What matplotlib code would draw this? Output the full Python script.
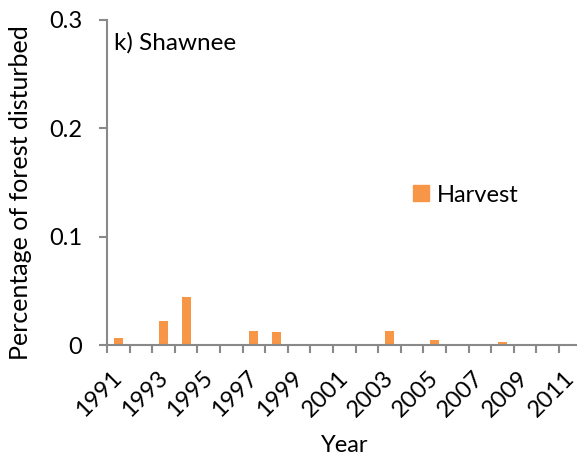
import matplotlib
matplotlib.use("Agg")
import matplotlib.pyplot as plt
import matplotlib.transforms as mtransforms
from matplotlib.patches import Patch
import numpy as np

years = list(range(1991, 2012))
harvest = [0.0065, 0, 0.0222, 0.0446, 0, 0, 0.0129, 0.0123, 0, 0, 0, 0,
           0.0129, 0, 0.0049, 0, 0, 0.0024, 0, 0, 0]
tick_labels = [str(y) if (y - 1991) % 2 == 0 else "" for y in years]

plt.rcParams["font.family"] = ["Lato", "DejaVu Sans"]
grey = "#898989"
orange = "#F79646"
fs = 17

fig = plt.figure(figsize=(5.77, 4.59), dpi=100)
# axes spans past the right edge like the original crop
ax = fig.add_axes([107 / 577, 1 - 345 / 459, 474.6 / 577, 325 / 459])

x = np.arange(len(years))
ax.bar(x, harvest, width=0.4, color=orange, zorder=2)

ax.set_xlim(-0.5, len(years) - 0.5)
ax.set_ylim(0, 0.3)
ax.set_yticks([0, 0.1, 0.2, 0.3])
ax.set_yticklabels(["0", "0.1", "0.2", "0.3"])

ax.set_xticks(x)
ax.set_xticklabels(tick_labels, rotation=45, ha="right", rotation_mode="anchor")
ax.set_xticks(np.arange(-0.5, len(years) + 0.5, 1), minor=True)
ax.tick_params(axis="x", which="major", length=0, pad=16, labelsize=fs)
ax.tick_params(axis="x", which="minor", length=6, width=1.5, color=grey)
ax.tick_params(axis="y", length=6, width=1.5, color=grey, labelsize=fs, pad=12)

# nudge rotated year labels a little to the left
shift = mtransforms.ScaledTranslation(-7 / 100, 0, fig.dpi_scale_trans)
for lab in ax.get_xticklabels():
    lab.set_transform(lab.get_transform() + shift)

for s in ["top", "right"]:
    ax.spines[s].set_visible(False)
for s in ["left", "bottom"]:
    ax.spines[s].set_color(grey)
    ax.spines[s].set_linewidth(1.5)

ax.set_xlabel("Year", fontsize=fs, labelpad=10)
ax.set_ylabel("Percentage of forest disturbed", fontsize=18)
ax.yaxis.set_label_coords(-0.158, 0.468)

ax.text(7 / 474.6, 1 - 23 / 325, "k) Shawnee", transform=ax.transAxes,
        fontsize=17.5, va="center")

ax.legend(handles=[Patch(color=orange, label="Harvest")], loc="center left",
          bbox_to_anchor=(306 / 474.6, 1 - 175 / 325), frameon=False, fontsize=fs,
          handlelength=0.68, handleheight=0.68, handletextpad=0.35, borderpad=0,
          borderaxespad=0)

fig.savefig("out.png", dpi=100)
